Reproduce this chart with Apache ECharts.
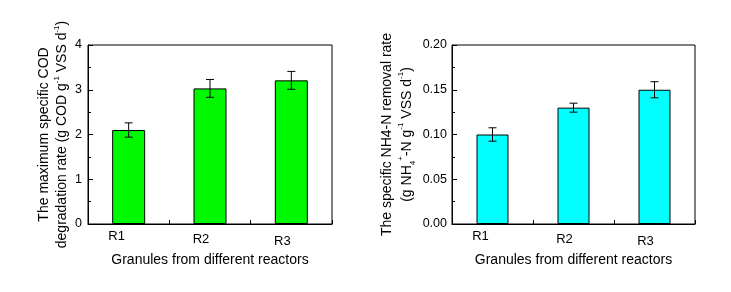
<!DOCTYPE html>
<html><head><meta charset="utf-8">
<script src="https://cdn.jsdelivr.net/npm/echarts@6/dist/echarts.min.js"></script>
<style>html,body{margin:0;padding:0;background:#fff}#c{width:731px;height:292px}</style>
</head><body><div id="c"></div>
<script>
const categories = ['R1', 'R2', 'R3'];
const codValues = [2.1, 3.03, 3.21];
const codErrors = [0.16, 0.2, 0.2];
const nh4Values = [0.10, 0.13, 0.15];
const nh4Errors = [0.0075, 0.005, 0.009];
const codTicks = [0, 1, 2, 3, 4];
const nh4Ticks = ['0.00', '0.05', '0.10', '0.15', '0.20'];
const xTitle = 'Granules from different reactors';

const FONT = 'Liberation Sans, Arial, sans-serif';
const chart = echarts.init(document.getElementById('c'), null, {renderer: 'canvas'});

const labelShift = [
  {padding: [0, 24, 0, 0]},
  {padding: [3, 18, 0, 0]},
  {padding: [5, 18, 0, 0]}
];
function catData() {
  return categories.map((c, i) => ({value: c, textStyle: labelShift[i]}));
}
function rich(lh) {
  return {
    n: {fontSize: 14, fontFamily: FONT, color: '#000', lineHeight: lh},
    sup: {fontSize: 8, fontFamily: FONT, color: '#000', verticalAlign: 'top', lineHeight: lh},
    sub: {fontSize: 8, fontFamily: FONT, color: '#000', verticalAlign: 'bottom', lineHeight: lh}
  };
}

function mainX(gi, name) {
  return {
    type: 'category', gridIndex: gi, data: catData(), position: 'bottom',
    axisLine: {show: true, lineStyle: {color: '#000', width: 1}},
    axisTick: {show: true, inside: true, length: 4, lineStyle: {color: '#000'}},
    axisLabel: {color: '#000', fontSize: 13, fontFamily: FONT, margin: 6},
    name: name, nameLocation: 'middle', nameGap: 27,
    nameTextStyle: {color: '#000', fontSize: 14, fontFamily: FONT}
  };
}
function centerX(gi) {
  return {
    type: 'category', gridIndex: gi, data: categories, position: 'bottom',
    axisLine: {show: false},
    axisTick: {show: true, inside: true, alignWithLabel: true, length: 4, lineStyle: {color: '#000'}},
    axisLabel: {show: false}
  };
}
function errRender(params, api) {
  const x = api.value(0), v = api.value(1), e = api.value(2);
  const hi = api.coord([x, v + e]);
  const lo = api.coord([x, v - e]);
  const w = 4;
  const st = {stroke: '#000', lineWidth: 1};
  return {type: 'group', children: [
    {type: 'line', shape: {x1: hi[0], y1: hi[1], x2: lo[0], y2: lo[1]}, style: st},
    {type: 'line', shape: {x1: hi[0] - w, y1: hi[1], x2: hi[0] + w, y2: hi[1]}, style: st},
    {type: 'line', shape: {x1: lo[0] - w, y1: lo[1], x2: lo[0] + w, y2: lo[1]}, style: st}
  ]};
}

const option = {
  animation: false,
  backgroundColor: '#fff',
  grid: [
    {left: 88, right: 399, top: 45, bottom: 68, show: true, borderColor: '#000', borderWidth: 1, backgroundColor: 'transparent'},
    {left: 452, right: 36, top: 45, bottom: 68, show: true, borderColor: '#000', borderWidth: 1, backgroundColor: 'transparent'}
  ],
  xAxis: [mainX(0, xTitle), centerX(0), mainX(1, xTitle), centerX(1)],
  yAxis: [
    {
      type: 'value', gridIndex: 0, min: codTicks[0], max: codTicks[codTicks.length - 1], interval: 1,
      splitLine: {show: false},
      axisLine: {show: true, lineStyle: {color: '#000'}},
      axisTick: {show: true, inside: true, length: 5, lineStyle: {color: '#000'}},
      minorTick: {show: true, splitNumber: 2, length: 3, lineStyle: {color: '#000'}},
      axisLabel: {color: '#000', fontSize: 12.5, fontFamily: FONT, margin: 6,
        formatter: v => String(codTicks[Math.round(v)])},
      name: '{n|The maximum specific COD}\n{n|degradation rate (g COD g}{sup|-1}{n| VSS d}{sup|-1}{n|)}',
      nameLocation: 'middle', nameRotate: 90, nameGap: 14,
      nameTextStyle: {color: '#000', fontSize: 14, fontFamily: FONT, lineHeight: 18, rich: rich(18)}
    },
    {
      type: 'value', gridIndex: 1, min: 0, max: 0.2, interval: 0.05,
      splitLine: {show: false},
      axisLine: {show: true, lineStyle: {color: '#000'}},
      axisTick: {show: true, inside: true, length: 5, lineStyle: {color: '#000'}},
      minorTick: {show: true, splitNumber: 2, length: 3, lineStyle: {color: '#000'}},
      axisLabel: {color: '#000', fontSize: 12.5, fontFamily: FONT, margin: 5,
        formatter: v => nh4Ticks[Math.round(v / 0.05)]},
      name: '{n|The specific NH4-N removal rate}\n{n|(g NH}{sub|4}{sup|+}{n|-N g}{sup|-1}{n| VSS d}{sup|-1}{n|)}',
      nameLocation: 'middle', nameRotate: 90, nameGap: 35,
      nameTextStyle: {color: '#000', fontSize: 14, fontFamily: FONT, lineHeight: 20, rich: rich(20)}
    }
  ],
  series: [
    {type: 'bar', xAxisIndex: 0, yAxisIndex: 0, data: codValues, barWidth: 33,
      itemStyle: {color: '#00f800', borderColor: '#000', borderWidth: 1}},
    {type: 'custom', xAxisIndex: 0, yAxisIndex: 0, z: 5, renderItem: errRender,
      data: codValues.map((v, i) => [i, v, codErrors[i]])},
    {type: 'bar', xAxisIndex: 2, yAxisIndex: 1, data: nh4Values, barWidth: 32,
      itemStyle: {color: '#00ffff', borderColor: '#000', borderWidth: 1}},
    {type: 'custom', xAxisIndex: 2, yAxisIndex: 1, z: 5, renderItem: errRender,
      data: nh4Values.map((v, i) => [i, v, nh4Errors[i]])}
  ]
};
chart.setOption(option);
</script></body></html>
